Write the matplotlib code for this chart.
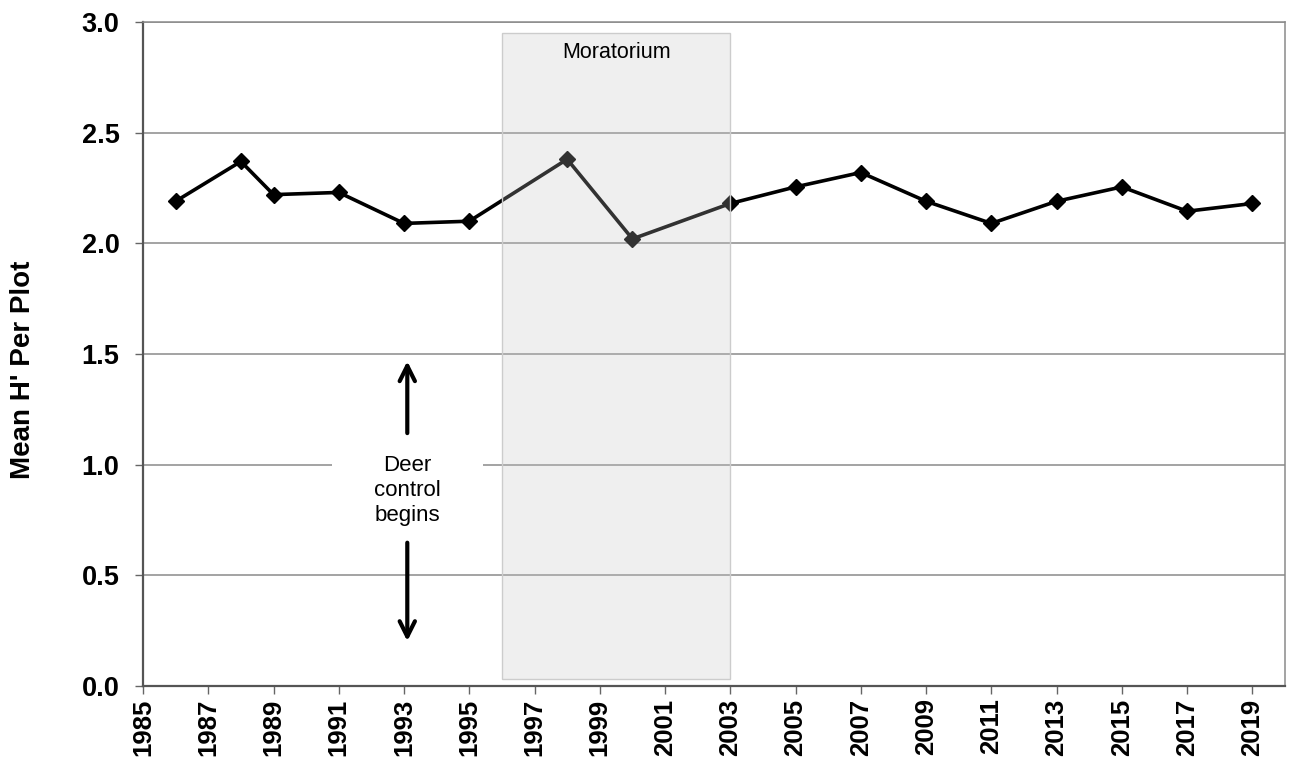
import matplotlib
matplotlib.use("Agg")
import matplotlib.pyplot as plt
from matplotlib.patches import Rectangle

plt.rcParams['font.family'] = ['Liberation Sans', 'DejaVu Sans']

# survey years and mean Shannon diversity per plot
years = [1986, 1988, 1989, 1991, 1993, 1995, 1998, 2000, 2003,
         2005, 2007, 2009, 2011, 2013, 2015, 2017, 2019]
mean_h = [2.19, 2.37, 2.22, 2.23, 2.09, 2.10, 2.38, 2.02, 2.18,
          2.255, 2.32, 2.19, 2.09, 2.19, 2.255, 2.145, 2.18]

x_ticks = list(range(1985, 2020, 2))
y_ticks = [0.0, 0.5, 1.0, 1.5, 2.0, 2.5, 3.0]

moratorium_start = 1996
moratorium_end = 2003
deer_control_year = 1993.1

fig = plt.figure(figsize=(12.93, 7.64), dpi=100)
ax = fig.add_axes([0.1106, 0.1021, 0.8832, 0.8691])

ax.set_xlim(1985, 2020)
ax.set_ylim(0, 3.0)

ax.yaxis.grid(True, color='#8a8a8a', linewidth=1.1, zorder=0)
ax.set_axisbelow(True)

line, = ax.plot(years, mean_h, color='black', linewidth=2.6, marker='D',
                markersize=8.5, zorder=3, clip_on=False)

# moratorium shading, semi transparent on top of line
mor = Rectangle((moratorium_start, 0.03), moratorium_end - moratorium_start, 2.92,
                facecolor='#c4c4c4', alpha=0.26, edgecolor='none', zorder=4)
ax.add_patch(mor)
ax.add_patch(Rectangle((moratorium_start, 0.03), moratorium_end - moratorium_start, 2.92,
                       facecolor='none', edgecolor='#cccccc', linewidth=1, zorder=4))
ax.text((moratorium_start + moratorium_end) / 2, 2.86, 'Moratorium',
        ha='center', va='center', fontsize=15.5, zorder=5)

# deer control annotation
ax.text(deer_control_year, 0.885, 'Deer\ncontrol\nbegins', ha='center', va='center',
        fontsize=16, linespacing=1.25, zorder=5,
        bbox=dict(boxstyle='square,pad=1.9', facecolor='white', edgecolor='none'))
arrow_style = dict(arrowstyle='->,head_length=1.1,head_width=0.55', color='black', lw=3)
ax.annotate('', xy=(deer_control_year, 1.48), xytext=(deer_control_year, 1.13),
            arrowprops=arrow_style, zorder=6)
ax.annotate('', xy=(deer_control_year, 0.19), xytext=(deer_control_year, 0.66),
            arrowprops=arrow_style, zorder=6)

ax.set_xticks(x_ticks)
ax.set_xticklabels([str(y) for y in x_ticks], rotation=90, fontsize=18.5, fontweight='bold')
ax.set_yticks(y_ticks)
ax.set_yticklabels(['%.1f' % v for v in y_ticks], fontsize=19.5, fontweight='bold')
ax.tick_params(axis='x', direction='out', length=6, width=1, color='#666666', pad=3)
ax.tick_params(axis='y', direction='out', length=6, width=1, color='#666666', pad=11)

ax.set_ylabel("Mean H' Per Plot", fontsize=20, fontweight='bold')
ax.yaxis.set_label_coords(-0.094, 0.476)

for side in ['left', 'bottom']:
    ax.spines[side].set_color('#555555')
    ax.spines[side].set_linewidth(1.6)
for side in ['top', 'right']:
    ax.spines[side].set_color('#8a8a8a')
    ax.spines[side].set_linewidth(1.1)

fig.savefig('out.png', dpi=100)
